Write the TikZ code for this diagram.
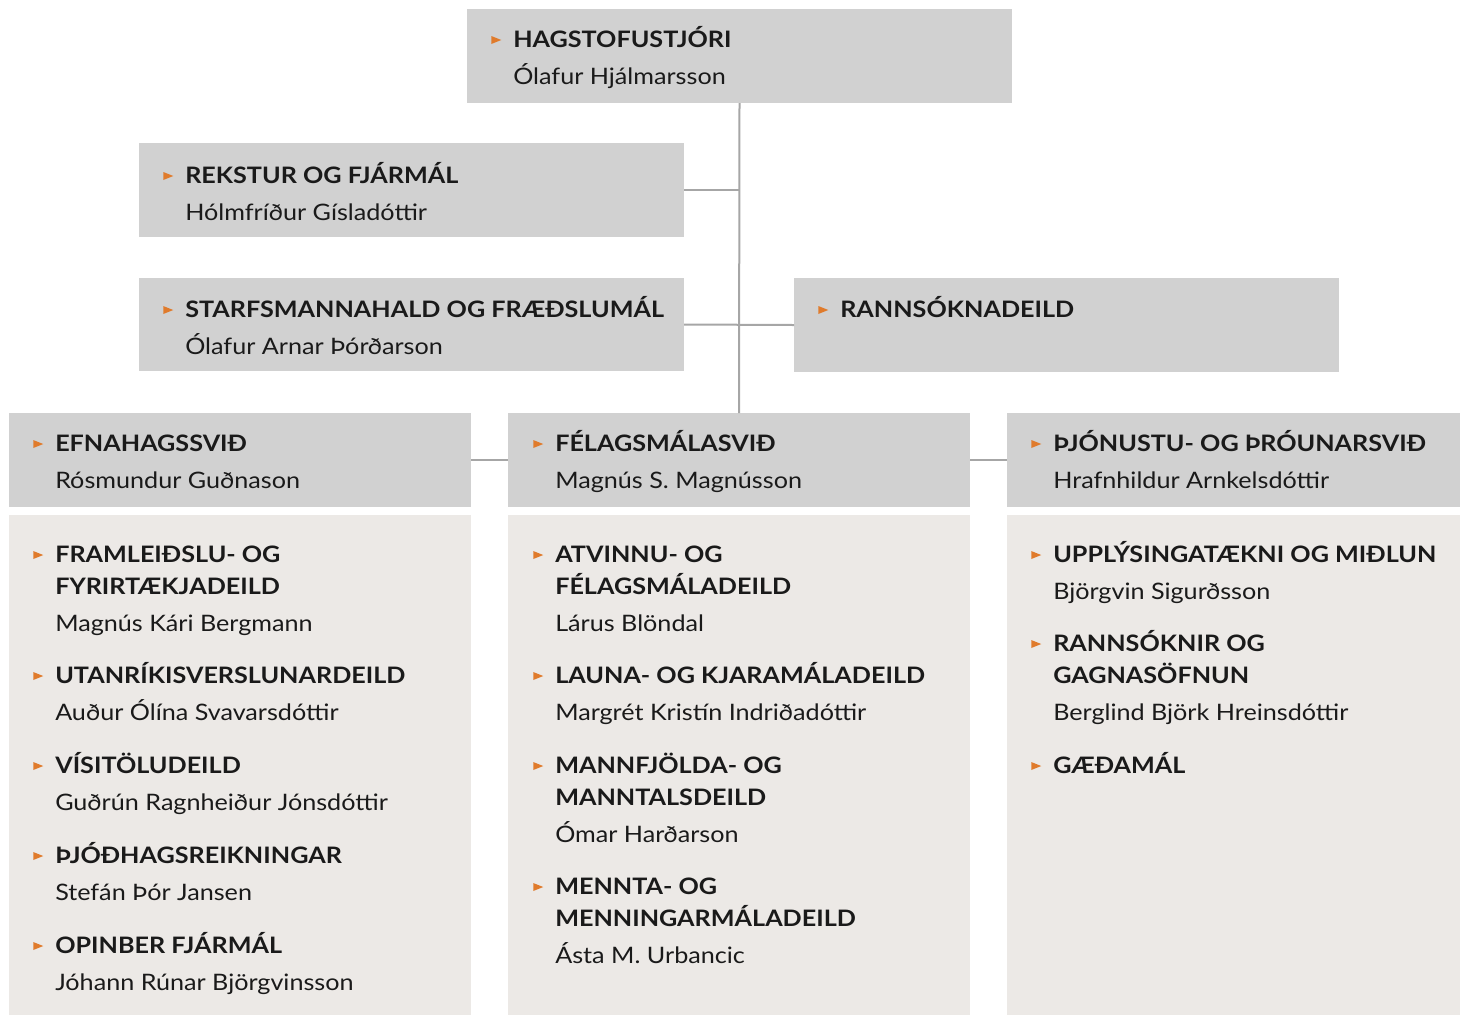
\documentclass[tikz,border=0pt]{standalone}
\usepackage{fontspec}
\setmainfont{Lato}[FakeStretch=1.11]
\usepackage{array}
\usepackage{tikz}
\usetikzlibrary{positioning}
\usepackage{xcolor}

\definecolor{boxgray}{HTML}{D1D1D1}
\definecolor{panelbeige}{HTML}{ECE9E6}
\definecolor{linegray}{HTML}{A6A6A6}
\definecolor{triorange}{HTML}{E07B2C}
\definecolor{textblack}{HTML}{1A1A1A}

% orange marker in front of each unit title
\newcommand{\tri}{\llap{\tikz[baseline=0pt]\fill[triorange] (0,2.25pt) -- (0,8.25pt) -- (7.5pt,5.25pt) -- cycle;\hspace{9pt}}}
\newcommand{\orgunit}[2]{\begin{tabular}[t]{@{}>{\bfseries}l@{}}\tri#1\\[3.75pt]\mdseries #2\end{tabular}}
\newcommand{\orghead}[1]{\begin{tabular}[t]{@{}>{\bfseries}l@{}}\tri#1\end{tabular}}

\begin{document}
\begin{tikzpicture}[
    x=0.75pt, y=-0.75pt,
    boxsize/.style 2 args={minimum width=#1*0.75pt, minimum height=#2*0.75pt},
    box/.style={fill=boxgray, anchor=north west, inner sep=0pt, outer sep=0pt},
    panel/.style={fill=panelbeige, anchor=north west, inner sep=0pt, outer sep=0pt},
    entry/.style={anchor=base west, inner sep=0pt, text=textblack, font=\fontsize{17}{24}\selectfont},
    conn/.style={draw=linegray, line width=1.5pt}
]
\useasboundingbox (0,0) rectangle (1460,1015);

% Boxes
\node[box, boxsize={545}{94}] (hag) at (467,9) {};
\node[box, boxsize={545}{94}] (rek) at (139,143) {};
\node[box, boxsize={545}{93}] (sta) at (139,278) {};
\node[box, boxsize={545}{94}] (rann) at (794,278) {};
\node[box, boxsize={462}{94}] (efn) at (9,413) {};
\node[box, boxsize={462}{94}] (fel) at (508,413) {};
\node[box, boxsize={453}{94}] (thj) at (1007,413) {};
\node[panel, boxsize={462}{500}] (efnpanel) at (9,515) {};
\node[panel, boxsize={462}{500}] (felpanel) at (508,515) {};
\node[panel, boxsize={453}{500}] (thjpanel) at (1007,515) {};

% Lines
\draw[conn] (hag.south) -- (fel.north);
\draw[conn] (rek.east) -- (rek.east -| hag.south);
\draw[conn] (sta.east) -- (rann.west);
\draw[conn] (efn.east) -- (fel.west);
\draw[conn] (fel.east) -- (thj.west);

% Heads
\node[entry] (hagtxt) at (513,47) {\orgunit{HAGSTOFUSTJÓRI}{Ólafur Hjálmarsson}};
\node[entry] (rektxt) at (185,183) {\orgunit{REKSTUR OG FJÁRMÁL}{Hólmfríður Gísladóttir}};
\node[entry] (statxt) at (185,317) {\orgunit{STARFSMANNAHALD OG FRÆÐSLUMÁL}{Ólafur Arnar Þórðarson}};
\node[entry] (renntxt) at (840,317) {\orghead{RANNSÓKNADEILD}};
\node[entry] (efntxt) at (55,451) {\orgunit{EFNAHAGSSVIÐ}{Rósmundur Guðnason}};
\node[entry] (feltxt) at (555,451) {\orgunit{FÉLAGSMÁLASVIÐ}{Magnús S. Magnússon}};
\node[entry] (thjtxt) at (1053,451) {\orgunit{ÞJÓNUSTU- OG ÞRÓUNARSVIÐ}{Hrafnhildur Arnkelsdóttir}};

% Units
\node[entry] (fram) at (55,562) {\orgunit{FRAMLEIÐSLU- OG\\FYRIRTÆKJADEILD}{Magnús Kári Bergmann}};
\node[entry] (utan) at (55,683) {\orgunit{UTANRÍKISVERSLUNARDEILD}{Auður Ólína Svavarsdóttir}};
\node[entry] (visi) at (55,773) {\orgunit{VÍSITÖLUDEILD}{Guðrún Ragnheiður Jónsdóttir}};
\node[entry] (thjod) at (55,863) {\orgunit{ÞJÓÐHAGSREIKNINGAR}{Stefán Þór Jansen}};
\node[entry] (opin) at (55,953) {\orgunit{OPINBER FJÁRMÁL}{Jóhann Rúnar Björgvinsson}};

\node[entry] (atv) at (555,562) {\orgunit{ATVINNU- OG\\FÉLAGSMÁLADEILD}{Lárus Blöndal}};
\node[entry] (laun) at (555,683) {\orgunit{LAUNA- OG KJARAMÁLADEILD}{Margrét Kristín Indriðadóttir}};
\node[entry] (mannf) at (555,773) {\orgunit{MANNFJÖLDA- OG\\MANNTALSDEILD}{Ómar Harðarson}};
\node[entry] (mennt) at (555,894) {\orgunit{MENNTA- OG\\MENNINGARMÁLADEILD}{Ásta M. Urbancic}};

\node[entry] (uppl) at (1053,562) {\orgunit{UPPLÝSINGATÆKNI OG MIÐLUN}{Björgvin Sigurðsson}};
\node[entry] (rannsok) at (1053,651) {\orgunit{RANNSÓKNIR OG\\GAGNASÖFNUN}{Berglind Björk Hreinsdóttir}};
\node[entry] (gaed) at (1053,773) {\orghead{GÆÐAMÁL}};

\end{tikzpicture}
\end{document}
